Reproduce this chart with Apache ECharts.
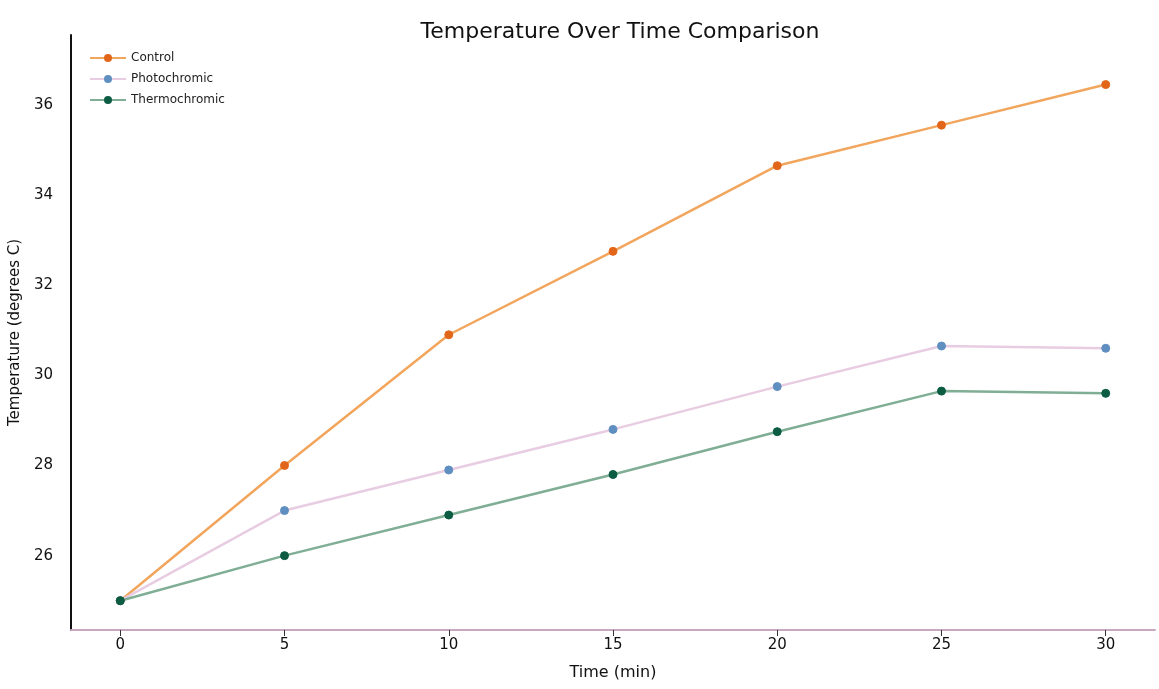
<!DOCTYPE html>
<html><head><meta charset="utf-8">
<script src="https://cdn.jsdelivr.net/npm/echarts@6/dist/echarts.min.js"></script>
<style>html,body{margin:0;padding:0;background:#fff}#c{width:1159px;height:689px}</style>
</head><body><div id="c"></div>
<script>
const times = [0, 5, 10, 15, 20, 25, 30];
const control = [25.0, 28.0, 30.9, 32.75, 34.65, 35.55, 36.45];
const photochromic = [25.0, 27.0, 27.9, 28.8, 29.75, 30.65, 30.6];
const thermochromic = [25.0, 26.0, 26.9, 27.8, 28.75, 29.65, 29.6];
const seriesNames = ['Control', 'Photochromic', 'Thermochromic'];

const pair = arr => times.map((t, i) => [t, arr[i]]);
const chart = echarts.init(document.getElementById('c'));
const font = '"DejaVu Sans", sans-serif';
function mk(name, data, lineColor, markColor) {
  return {
    name, type: 'line', data: pair(data), symbol: 'circle', symbolSize: 8,
    lineStyle: { color: lineColor, width: 2.5 },
    itemStyle: { color: markColor, borderColor: markColor },
    z: 3
  };
}
chart.setOption({
  animation: false,
  backgroundColor: '#fff',
  title: { text: 'Temperature Over Time Comparison', left: 615, top: 16, textAlign: 'center',
    textStyle: { fontFamily: font, fontSize: 22, fontWeight: 'normal', color: '#111' } },
  legend: { orient: 'vertical', left: 84, top: 47, itemGap: 9, itemWidth: 36, itemHeight: 10,
    data: seriesNames,
    textStyle: { fontFamily: font, fontSize: 12, color: '#222' } },
  grid: { left: 68, right: 4, top: 35, bottom: 59 },
  xAxis: { type: 'value', min: -1.5, max: 31.5, splitNumber: 7,
    axisLine: { onZero: false, lineStyle: { color: '#c8a8c0', width: 2 } },
    axisTick: { show: true, length: 6, lineStyle: { color: '#333' } },
    splitLine: { show: false },
    axisLabel: { fontFamily: font, fontSize: 15, color: '#111', showMinLabel: false, showMaxLabel: false,
      formatter: v => (Math.abs(v - Math.round(v)) < 1e-6 && Math.round(v) % 5 === 0) ? String(Math.round(v)) : '' },
    name: 'Time (min)', nameLocation: 'middle', nameGap: 35,
    nameTextStyle: { fontFamily: font, fontSize: 16, color: '#111' } },
  yAxis: { type: 'value', min: 24.35, max: 37.55, splitNumber: 6,
    axisLine: { show: true, onZero: false, lineStyle: { color: '#111', width: 2 } },
    axisTick: { show: false },
    splitLine: { show: false },
    axisLabel: { fontFamily: font, fontSize: 15, color: '#111', margin: 18, showMinLabel: false, showMaxLabel: false,
      formatter: v => (Math.abs(v - Math.round(v)) < 1e-6 && Math.round(v) % 2 === 0) ? String(Math.round(v)) : '' },
    name: 'Temperature (degrees C)', nameLocation: 'middle', nameGap: 48,
    nameTextStyle: { fontFamily: font, fontSize: 15, color: '#111' } },
  series: [
    mk(seriesNames[0], control, '#f2a55c', '#e2661a'),
    mk(seriesNames[1], photochromic, '#e8cde2', '#5f8fc0'),
    mk(seriesNames[2], thermochromic, '#7fae95', '#0b5c42')
  ]
});
</script></body></html>
